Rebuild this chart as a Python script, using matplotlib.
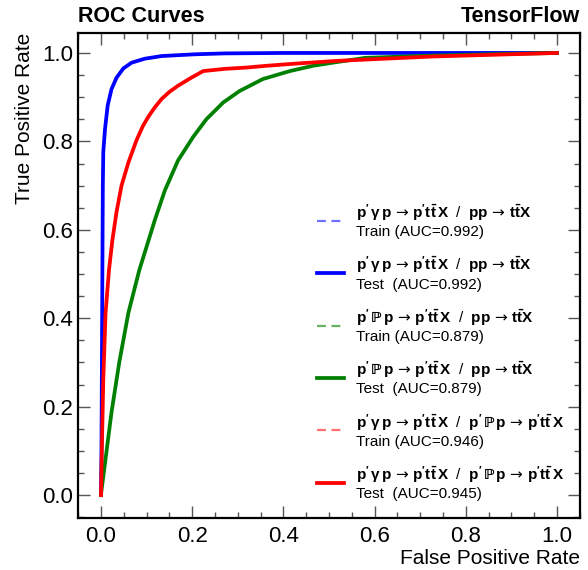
"""ROC curves for the three classification tasks (train dashed, test solid)."""
import matplotlib
matplotlib.use("Agg")
import matplotlib.pyplot as plt
from matplotlib.ticker import MultipleLocator

plt.rcParams["font.family"] = ["Liberation Sans", "DejaVu Sans"]
plt.rcParams["mathtext.fontset"] = "custom"
plt.rcParams["mathtext.rm"] = "DejaVu Sans"
plt.rcParams["mathtext.bf"] = "Liberation Sans:bold"
plt.rcParams["mathtext.it"] = "Liberation Sans:italic"

# ROC points
fpr_gamma_pp = [0.0, 0.001, 0.002, 0.003, 0.004, 0.005, 0.0088, 0.0146, 0.023, 0.034,
                0.049, 0.067, 0.096, 0.133, 0.206, 0.271, 0.4, 0.6, 1.0]
tpr_gamma_pp = [0.0, 0.10, 0.30, 0.50, 0.70, 0.776, 0.828, 0.881, 0.918, 0.944,
                0.965, 0.978, 0.987, 0.993, 0.997, 0.999, 1.0, 1.0, 1.0]

fpr_pom_pp = [0.0, 0.001, 0.009, 0.023, 0.040, 0.060, 0.084, 0.1, 0.118, 0.14,
              0.169, 0.202, 0.231, 0.268, 0.304, 0.355, 0.414, 0.465, 0.508, 0.58,
              0.727, 0.85, 1.0]
tpr_pom_pp = [0.0, 0.01, 0.074, 0.187, 0.30, 0.412, 0.509, 0.562, 0.622, 0.689,
              0.757, 0.81, 0.85, 0.888, 0.914, 0.941, 0.959, 0.971, 0.978, 0.989,
              0.994, 0.997, 1.0]

fpr_gamma_pom = [0.0, 0.002, 0.005, 0.010, 0.0175, 0.025, 0.034, 0.045, 0.06, 0.078,
                 0.092, 0.104, 0.118, 0.133, 0.15, 0.169, 0.198, 0.224, 0.271, 0.319,
                 0.363, 0.428, 0.516, 0.727, 1.0]
tpr_gamma_pom = [0.0, 0.11, 0.261, 0.412, 0.509, 0.577, 0.64, 0.70, 0.752, 0.803,
                 0.835, 0.856, 0.877, 0.896, 0.912, 0.926, 0.944, 0.959, 0.964, 0.967,
                 0.971, 0.976, 0.982, 0.992, 1.0]

arrow = r"\,\rightarrow\,"
proc_gamma = r"$\mathbf{p^{\prime}\,\gamma\,p}" + arrow + r"\mathbf{p^{\prime}t\bar{t}\,X}$"
proc_pom = r"$\mathbf{p^{\prime}\,ℙ\,p}" + arrow + r"\mathbf{p^{\prime}t\bar{t}\,X}$"
proc_pp = r"$\mathbf{pp}" + arrow + r"\mathbf{t\bar{t}X}$"

tasks = [
    (proc_gamma, proc_pp, fpr_gamma_pp, tpr_gamma_pp, "0.992", "0.992", "blue", "#7070ff"),
    (proc_pom, proc_pp, fpr_pom_pp, tpr_pom_pp, "0.879", "0.879", "green", "#66b366"),
    (proc_gamma, proc_pom, fpr_gamma_pom, tpr_gamma_pom, "0.946", "0.945", "red", "#ff7070"),
]

fig = plt.figure(figsize=(5.88, 5.70), dpi=100)
ax = fig.add_axes([0.133, 0.091, 0.853, 0.851])

for sig, bkg, fpr, tpr, auc_train, auc_test, col, light in tasks:
    head = f"{sig}  /  {bkg}"
    ax.plot(fpr, tpr, ls="--", dashes=(4, 2.5), color=light, lw=1.6,
            label=f"{head}\nTrain (AUC={auc_train})")
    ax.plot(fpr, tpr, ls="-", color=col, lw=2.7,
            label=f"{head}\nTest  (AUC={auc_test})")

ax.set_xlim(-0.05, 1.05)
ax.set_ylim(-0.052, 1.045)
ax.xaxis.set_major_locator(MultipleLocator(0.2))
ax.xaxis.set_minor_locator(MultipleLocator(0.05))
ax.yaxis.set_major_locator(MultipleLocator(0.2))
ax.yaxis.set_minor_locator(MultipleLocator(0.05))
ax.tick_params(which="both", direction="in", top=True, right=True,
               labelsize=16, color="#555555")
ax.tick_params(axis="x", which="major", pad=6)
ax.tick_params(which="major", length=8.5, width=1)
ax.tick_params(which="minor", length=4, width=1)
for sp in ax.spines.values():
    sp.set_linewidth(1.6)

ax.set_xlabel("False Positive Rate", fontsize=15, loc="right", labelpad=1)
ax.set_ylabel("True Positive Rate", fontsize=15, loc="top", labelpad=6)

ax.text(0.0, 1.012, "ROC Curves", transform=ax.transAxes, ha="left", va="bottom",
        fontsize=15.5, fontweight="bold")
ax.text(1.0, 1.012, "TensorFlow", transform=ax.transAxes, ha="right", va="bottom",
        fontsize=15.5, fontweight="bold")

ax.legend(loc="lower right", frameon=False, fontsize=11, handlelength=1.8,
          handletextpad=0.75, labelspacing=1.0, borderaxespad=0, borderpad=0,
          bbox_to_anchor=(0.968, 0.035))

fig.savefig("out.png", dpi=100)
